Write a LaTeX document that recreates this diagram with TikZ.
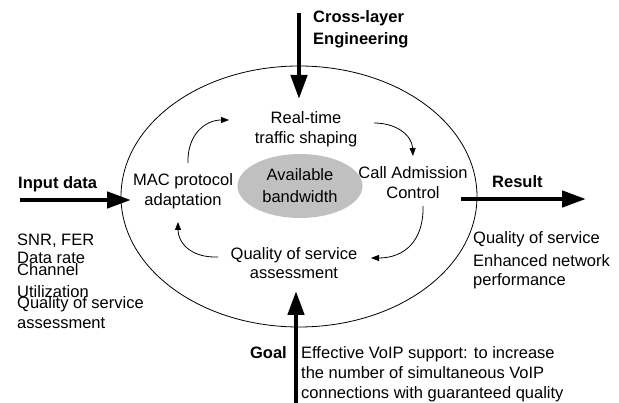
\documentclass[tikz,border=0pt]{standalone}
\usepackage{fontspec}
\setmainfont{Liberation Sans}
\usetikzlibrary{arrows.meta,shapes.geometric}
\begin{document}
\begin{tikzpicture}[x=1pt,y=-1pt,
  txt/.style={inner sep=0pt, font=\fontsize{16.5}{20}\selectfont},
  hdr/.style={inner sep=0pt, font=\fontsize{16.5}{20}\selectfont\bfseries},
  bigarrow/.style={line width=4.5pt, -{Triangle[width=16pt,length=24pt]}},
  looparrow/.style={line width=0.8pt, -{Triangle[width=6pt,length=8pt]}}]
\useasboundingbox (0,0) rectangle (619,403);

% ellipses
\node[ellipse, draw, line width=0.8pt, minimum width=356pt, minimum height=261pt, inner sep=0pt] (outer) at (299,196.5) {};
\node[ellipse, fill={rgb,255:red,192;green,192;blue,192}, minimum width=125pt, minimum height=64pt, inner sep=0pt] (gray) at (300,186) {};

% inner texts
\node[txt, anchor=base] (rt1) at (306,124) {Real-time};
\node[txt, anchor=base] (rt2) at (306,144) {traffic shaping};
\node[txt, anchor=base] (mac1) at (183,186) {MAC protocol};
\node[txt, anchor=base] (mac2) at (183,206) {adaptation};
\node[txt, anchor=base] (ab1) at (300,181) {Available};
\node[txt, anchor=base] (ab2) at (300,203) {bandwidth};
\node[txt, anchor=base] (cac1) at (413,179) {Call Admission};
\node[txt, anchor=base] (cac2) at (413,199) {Control};
\node[txt, anchor=base] (qos1) at (294,260) {Quality of service};
\node[txt, anchor=base] (qos2) at (294,279) {assessment};

% headers
\node[hdr, anchor=base west] (cl1) at (313,23) {Cross-layer};
\node[hdr, anchor=base west] (cl2) at (313,45) {Engineering};
\node[hdr, anchor=base west] (inp) at (18,189) {Input data};
\node[hdr, anchor=base west] (res) at (492,188) {Result};
\node[hdr, anchor=base east] (goal) at (287,359) {Goal};

% left list
\node[txt, anchor=base west] (l1) at (17,246) {SNR, FER};
\node[txt, anchor=base west] (l2) at (17,264) {Data rate};
\node[txt, anchor=base west] (l3) at (17,276) {Channel};
\node[txt, anchor=base west] (l4) at (17,298) {Utilization};
\node[txt, anchor=base west] (l5) at (17,309) {Quality of service};
\node[txt, anchor=base west] (l6) at (17,329) {assessment};

% right list
\node[txt, anchor=base west] (r1) at (473,244) {Quality of service};
\node[txt, anchor=base west] (r2) at (473,267) {Enhanced network};
\node[txt, anchor=base west] (r3) at (473,286) {performance};

% goal text
\node[txt, anchor=base west] (g1) at (301,359) {Effective VoIP support: to increase};
\node[txt, anchor=base west] (g2) at (301,379) {the number of simultaneous VoIP};
\node[txt, anchor=base west] (g3) at (301,399) {connections with guaranteed quality};

% big arrows
\coordinate (topS) at (299,13);
\coordinate (topE) at (299,99);
\coordinate (inS) at (20,200);
\coordinate (inE) at (131,200);
\coordinate (resS) at (461,199);
\coordinate (resE) at (586,199);
\coordinate (goS) at (296,403);
\coordinate (goE) at (296,291);
\draw[bigarrow] (topS) -- (topE);
\draw[bigarrow] (inS) -- (inE);
\draw[bigarrow] (resS) -- (resE);
\draw[bigarrow] (goS) -- (goE);

% loop arrows
\coordinate (a1s) at (188,163);
\coordinate (a1e) at (229,120);
\coordinate (a2s) at (374,123);
\coordinate (a2e) at (413,156);
\coordinate (a3s) at (423,206);
\coordinate (a3e) at (371,258);
\coordinate (a4s) at (218,257);
\coordinate (a4e) at (178,222);
\draw[looparrow] (a1s) .. controls (187,135) and (205,120) .. (a1e);
\draw[looparrow] (a2s) .. controls (396,123) and (412,135) .. (a2e);
\draw[looparrow] (a3s) .. controls (424,240) and (405,258) .. (a3e);
\draw[looparrow] (a4s) .. controls (190,258) and (178,242) .. (a4e);
\end{tikzpicture}
\end{document}
